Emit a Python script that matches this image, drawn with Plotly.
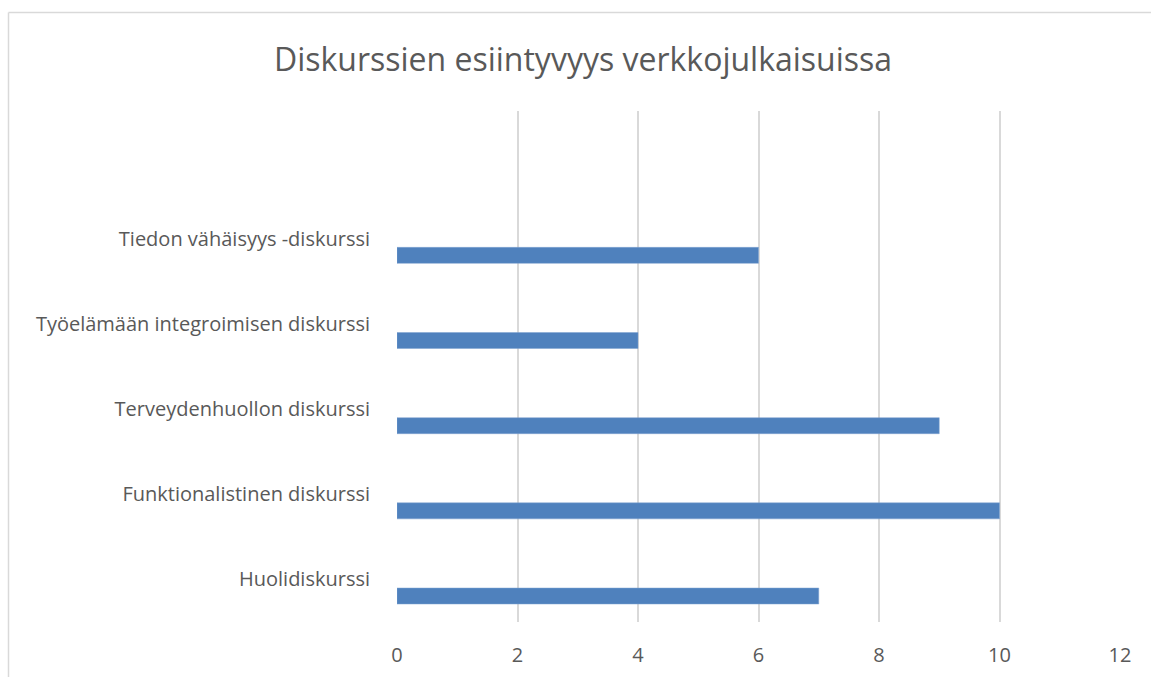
import plotly.graph_objects as go

categories = ["Huolidiskurssi", "Funktionalistinen diskurssi", "Terveydenhuollon diskurssi",
              "Työelämään integroimisen diskurssi", "Tiedon vähäisyys -diskurssi"]
values = [7, 10, 9, 4, 6]
x_ticks = [0, 2, 4, 6, 8, 10, 12]
title_text = "Diskurssien esiintyvyys verkkojulkaisuissa"

FONT = "Open Sans"
GRAY = "#595959"

fig = go.Figure()
fig.add_trace(go.Bar(
    y=categories, x=values, orientation="h",
    width=0.188, offset=-0.289,
    marker=dict(color="#4f81bd", line=dict(color="#7fa3d0", width=0.5)),
    showlegend=False,
))

fig.update_layout(
    width=1151, height=677,
    margin=dict(l=397, r=31, t=111, b=55, autoexpand=False),
    paper_bgcolor="white", plot_bgcolor="white",
    title=dict(text=title_text, x=583 / 1151, xanchor="center", xref="container",
               y=1 - 60 / 677, yanchor="middle", yref="container",
               font=dict(family=FONT, size=32, color=GRAY)),
    xaxis=dict(range=[0, 12], tickvals=x_ticks, showgrid=True, gridcolor="#d9d9d9",
               gridwidth=2, zeroline=False, showline=False, automargin=False,
               ticks="outside", ticklen=15, tickcolor="rgba(0,0,0,0)",
               tickfont=dict(family=FONT, size=20, color=GRAY), fixedrange=True),
    yaxis=dict(type="category", categoryorder="array", categoryarray=categories,
               range=[-0.5, 5.5], showgrid=False, zeroline=False, showline=False,
               automargin=False, fixedrange=True,
               ticks="outside", ticklen=22, tickcolor="rgba(0,0,0,0)",
               tickfont=dict(family=FONT, size=20, color=GRAY)),
    shapes=[
        dict(type="line", xref="paper", yref="paper",
             x0=(8.5 - 397) / 723, x1=1.1, y0=(622 - 12.5) / 511, y1=(622 - 12.5) / 511,
             line=dict(color="#d9d9d9", width=1.5)),
        dict(type="line", xref="paper", yref="paper",
             x0=(8.5 - 397) / 723, x1=(8.5 - 397) / 723, y0=(622 - 12.5) / 511, y1=-0.2,
             line=dict(color="#d9d9d9", width=1.5)),
    ],
)

fig.write_html("out.html", config={"displayModeBar": False},
               post_script="document.body.style.margin='0';document.body.style.overflow='hidden';")
